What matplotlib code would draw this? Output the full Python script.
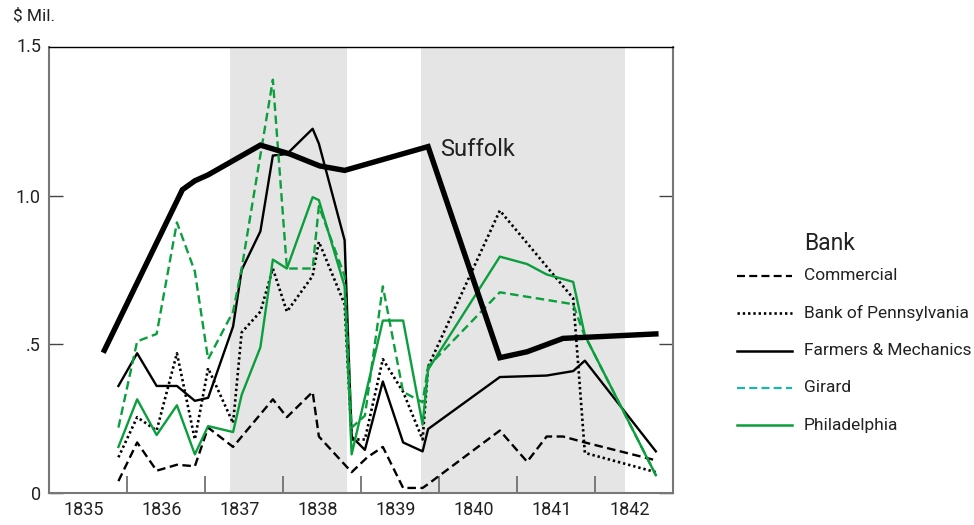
import matplotlib
matplotlib.use("Agg")
from matplotlib import pyplot as plt
from matplotlib.lines import Line2D

plt.rcParams['font.family'] = ['Roboto', 'DejaVu Sans']

# data (decimal years, $ millions)
suffolk_x = [1835.71, 1836.71, 1836.87, 1837.04, 1837.71, 1838.09, 1838.47, 1838.79,
             1839.86, 1840.78, 1841.13, 1841.59, 1842.78]
suffolk_y = [0.48, 1.02, 1.05, 1.07, 1.17, 1.14, 1.10, 1.085, 1.165, 0.455, 0.475, 0.52, 0.535]

fm_x = [1835.89, 1836.13, 1836.38, 1836.64, 1836.87, 1837.04, 1837.36, 1837.47, 1837.71,
        1837.87, 1838.05, 1838.38, 1838.46, 1838.79, 1838.88, 1839.05, 1839.28, 1839.54,
        1839.79, 1839.86, 1840.78, 1841.38, 1841.72, 1841.87, 1842.78]
fm_y = [0.36, 0.47, 0.36, 0.36, 0.31, 0.32, 0.56, 0.75, 0.88, 1.135, 1.14, 1.225, 1.175,
        0.85, 0.19, 0.145, 0.375, 0.17, 0.14, 0.215, 0.39, 0.395, 0.41, 0.445, 0.14]

comm_x = [1835.89, 1836.13, 1836.38, 1836.64, 1836.87, 1837.04, 1837.36, 1837.87, 1838.05,
          1838.38, 1838.46, 1838.88, 1839.08, 1839.28, 1839.54, 1839.79, 1839.86, 1840.78,
          1841.13, 1841.38, 1841.59, 1841.87, 1842.78]
comm_y = [0.04, 0.17, 0.075, 0.095, 0.09, 0.22, 0.155, 0.315, 0.255, 0.34, 0.19, 0.07, 0.12,
          0.155, 0.017, 0.017, 0.03, 0.21, 0.105, 0.19, 0.19, 0.17, 0.11]

bop_x = [1835.89, 1836.13, 1836.38, 1836.64, 1836.87, 1837.04, 1837.36, 1837.47, 1837.71,
         1837.87, 1838.05, 1838.38, 1838.46, 1838.79, 1838.88, 1839.05, 1839.28, 1839.54,
         1839.79, 1839.86, 1840.78, 1841.72, 1841.87, 1842.78]
bop_y = [0.12, 0.255, 0.21, 0.47, 0.18, 0.42, 0.235, 0.54, 0.61, 0.755, 0.61, 0.73, 0.845,
         0.635, 0.18, 0.18, 0.45, 0.34, 0.18, 0.425, 0.95, 0.655, 0.135, 0.07]

girard_x = [1835.89, 1836.13, 1836.38, 1836.64, 1836.87, 1837.04, 1837.36, 1837.47, 1837.87,
            1838.05, 1838.38, 1838.46, 1838.79, 1838.88, 1839.05, 1839.28, 1839.54, 1839.79,
            1839.86, 1840.78, 1841.13, 1841.72, 1841.85, 1842.78]
girard_y = [0.22, 0.51, 0.535, 0.91, 0.745, 0.45, 0.61, 0.755, 1.39, 0.755, 0.755, 0.965,
            0.73, 0.22, 0.26, 0.695, 0.34, 0.305, 0.425, 0.675, 0.66, 0.635, 0.54, 0.06]

phil_x = [1835.89, 1836.13, 1836.38, 1836.64, 1836.87, 1837.04, 1837.36, 1837.47, 1837.71,
          1837.87, 1838.05, 1838.38, 1838.46, 1838.79, 1838.88, 1839.28, 1839.54, 1839.79,
          1839.86, 1840.78, 1841.13, 1841.38, 1841.72, 1841.87, 1842.78]
phil_y = [0.155, 0.315, 0.195, 0.295, 0.13, 0.225, 0.205, 0.33, 0.49, 0.785, 0.755, 0.995,
          0.985, 0.695, 0.13, 0.58, 0.58, 0.23, 0.415, 0.795, 0.77, 0.735, 0.71, 0.53, 0.06]

years = [1835, 1836, 1837, 1838, 1839, 1840, 1841, 1842]
shade_spans = [(1837.32, 1838.82), (1839.77, 1842.38)]

green = '#0a9e3c'
teal = '#1cb5ad'
dash = (0, (3.6, 1.9))
dot = (0, (0.9, 1.1))
txt = '#222222'

fig = plt.figure(figsize=(9.74, 5.25), dpi=100)
ax = fig.add_axes([49 / 974, 32 / 525, 624 / 974, 446 / 525])

for a, b in shade_spans:
    ax.axvspan(a, b, color='#e5e5e5', lw=0, zorder=0)

series = [
    ('Commercial', comm_x, comm_y, 'black', dash, 1.7),
    ('Bank of Pennsylvania', bop_x, bop_y, 'black', dot, 1.9),
    ('Farmers & Mechanics', fm_x, fm_y, 'black', '-', 1.7),
    ('Girard', girard_x, girard_y, green, dash, 1.7),
    ('Philadelphia', phil_x, phil_y, green, '-', 1.7),
]
for name, xs, ys, c, ls, lw in series:
    ax.plot(xs, ys, color=c, linestyle=ls, lw=lw, zorder=2)

ax.plot(suffolk_x, suffolk_y, color='black', lw=3.9, zorder=3, solid_joinstyle='miter')
ax.text(1840.01, 1.155, 'Suffolk', fontsize=17, va='center', ha='left', color=txt)

ax.set_xlim(1835, 1843)
ax.set_ylim(0, 1.5)

# year boundaries as ticks, labels centred in each year
ax.set_xticks(years[1:])
ax.set_xticklabels([])
ax.set_xticks([y + 0.45 for y in years], minor=True)
ax.set_xticklabels([str(y) for y in years], minor=True, fontsize=13, color=txt)
ax.tick_params(axis='x', which='major', direction='in', length=12, width=1.2, color='#666666')
ax.tick_params(axis='x', which='minor', length=0, pad=6)

ax.set_yticks([0, 0.5, 1.0])
ax.set_yticklabels(['0', '.5', '1.0'], fontsize=13, color=txt)
ax.tick_params(axis='y', direction='in', length=10, width=1.0, color='#444444', pad=6,
               right=True)
# 1.5 sits on the top frame, so no tick mark for it
ax.text(-0.012, 1.0, '1.5', transform=ax.transAxes, fontsize=13, color=txt,
        ha='right', va='center')

for s in ['left', 'bottom', 'right']:
    ax.spines[s].set_color('#777777')
    ax.spines[s].set_linewidth(1.5)
ax.spines['top'].set_color('black')
ax.spines['top'].set_linewidth(1.0)

fig.text(13 / 974, 1 - 16 / 525, '$ Mil.', fontsize=12.5, va='center', ha='left', color=txt)

# legend drawn by hand so that the title lines up with the labels
fig.text(804 / 974, 1 - 243 / 525, 'Bank', fontsize=16.5, va='center', ha='left', color=txt)
legend_rows = [
    ('Commercial', 'black', dash, 1.6),
    ('Bank of Pennsylvania', 'black', dot, 1.9),
    ('Farmers & Mechanics', 'black', '-', 1.8),
    ('Girard', teal, dash, 1.6),
    ('Philadelphia', green, '-', 1.8),
]
for i, (name, c, ls, lw) in enumerate(legend_rows):
    yy = 1 - (276 + i * 37.3) / 525
    fig.add_artist(Line2D([737 / 974, 792 / 974], [yy, yy], color=c, linestyle=ls, lw=lw,
                          transform=fig.transFigure))
    fig.text(804 / 974, yy, name, fontsize=12.5, va='center', ha='left', color=txt)

fig.savefig('out.png', dpi=100)
